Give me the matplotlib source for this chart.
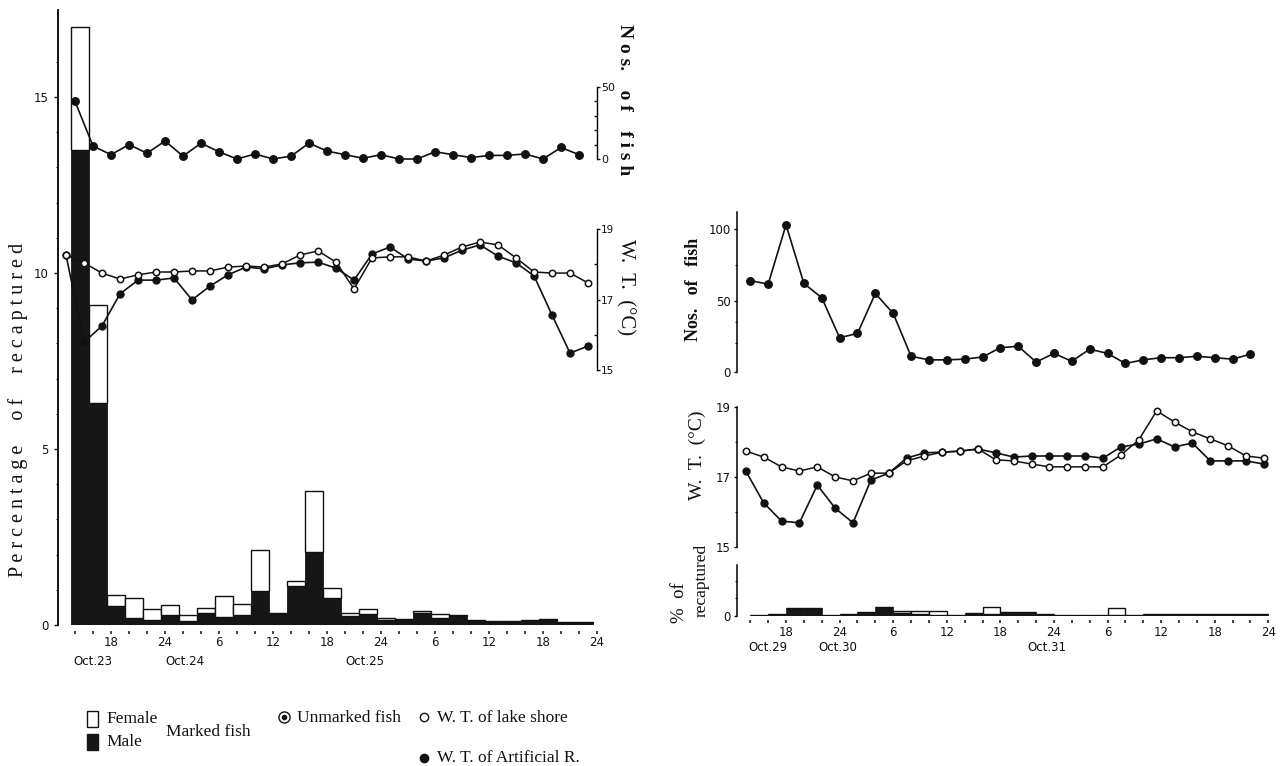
import matplotlib.pyplot as plt
from matplotlib.lines import Line2D
from matplotlib.patches import Rectangle

# ── Data (hours counted from 0:00 of the first day of each panel) ──────
# left panel: Oct. 23 - 25
bar_hours_L = [14.5 + 2 * k for k in range(29)]
male_L = [13.5, 6.3, 0.55, 0.2, 0.13, 0.28, 0.1, 0.33, 0.24, 0.27, 0.96, 0.3, 1.1, 2.06, 0.76,
          0.25, 0.3, 0.15, 0.15, 0.35, 0.2, 0.25, 0.12, 0.1, 0.1, 0.13, 0.14, 0.06, 0.06]
female_L = [3.5, 2.8, 0.3, 0.56, 0.33, 0.28, 0.17, 0.15, 0.57, 0.33, 1.16, 0.04, 0.14, 1.76, 0.29,
            0.09, 0.15, 0.05, 0.03, 0.05, 0.1, 0.03, 0.03, 0.02, 0.02, 0.02, 0.02, 0.02, 0.02]
nos_hours_L = [14 + 2 * k for k in range(29)]
nos_L = [40, 9, 3, 10, 4, 12.5, 2, 11, 5, 0, 3.5, 0, 2, 11, 5.5,
         3, 0.5, 3, 0, 0, 5, 3, 1, 2.5, 2.5, 3.5, 0, 8, 3]
wt_hours_L = [13 + 2 * k for k in range(30)]
shore_L = [18.26, 18.04, 17.75, 17.58, 17.70, 17.78, 17.78, 17.81, 17.81, 17.92, 17.95, 17.92, 18.01,
           18.26, 18.38, 18.06, 17.30, 18.18, 18.21, 18.21, 18.09, 18.26, 18.49, 18.63, 18.55,
           18.18, 17.78, 17.75, 17.75, 17.47]
artif_L = [18.26, 15.79, 16.25, 17.16, 17.55, 17.55, 17.61, 16.99, 17.38, 17.70, 17.92, 17.87, 17.98,
           18.04, 18.06, 17.89, 17.55, 18.29, 18.49, 18.15, 18.09, 18.18, 18.40, 18.55, 18.23,
           18.04, 17.67, 16.56, 15.48, 15.68]

# right panel: Oct. 29 - 31
bar_hours_R = [15 + 2 * k for k in range(29)]
male_R = [0.02, 0.06, 0.23, 0.23, 0.03, 0.07, 0.1, 0.26, 0.08, 0.05, 0.04, 0.04, 0.08, 0.06, 0.12,
          0.12, 0.05, 0.03, 0.03, 0.03, 0.04, 0.04, 0.05, 0.05, 0.05, 0.05, 0.06, 0.06, 0.06]
female_R = [0, 0, 0, 0, 0, 0, 0, 0, 0.07, 0.1, 0.11, 0, 0, 0.2, 0,
            0, 0, 0, 0, 0, 0.18, 0, 0, 0, 0, 0, 0, 0, 0]
nos_hours_R = [14 + 2 * k for k in range(29)]
nos_R = [64, 61.5, 103, 62, 52, 24, 27, 55, 41, 11, 8.5, 8.5, 9, 10.5, 17,
         18, 7, 13, 7.5, 16, 13, 6, 8.5, 10, 10, 11, 10, 9, 12.5]
wt_hours_R = [13.5 + 2 * k for k in range(30)]
shore_R = [17.74, 17.57, 17.29, 17.17, 17.29, 17.0, 16.89, 17.11, 17.11, 17.46, 17.6, 17.71, 17.74,
           17.8, 17.49, 17.46, 17.37, 17.29, 17.29, 17.29, 17.29, 17.63, 18.06, 18.89, 18.57,
           18.29, 18.09, 17.89, 17.6, 17.54]
artif_R = [17.17, 16.26, 15.74, 15.69, 16.77, 16.11, 15.69, 16.91, 17.11, 17.54, 17.69, 17.71, 17.74,
           17.8, 17.69, 17.57, 17.6, 17.6, 17.6, 17.6, 17.54, 17.86, 17.94, 18.09, 17.86, 17.97,
           17.46, 17.46, 17.46, 17.37]

hour_ticks = [18, 24, 30, 36, 42, 48, 54, 60, 66, 72]
hour_labels = ["18", "24", "6", "12", "18", "24", "6", "12", "18", "24"]
minor_hours = [14 + 2 * k for k in range(30)]

# ── Style ──────────────────────────────────────────────────────────────
W, H = 1280, 766
SERIF = ["Liberation Serif", "DejaVu Serif"]
NARROW = ["Liberation Sans Narrow", "DejaVu Sans"]
INK = "#111111"
MALE = "#161616"

fig = plt.figure(figsize=(12.8, 7.66), dpi=100)


def axes_px(x0, y0, x1, y1):
    """Transparent axes placed by pixel box (top-left origin), all spines off."""
    ax = fig.add_axes([x0 / W, 1 - y1 / H, (x1 - x0) / W, (y1 - y0) / H])
    ax.patch.set_alpha(0)
    for s in ax.spines.values():
        s.set_visible(False)
    ax.set_xticks([])
    ax.set_yticks([])
    return ax


def tick_font(ax, axis="y", size=8):
    for lab in (ax.get_yticklabels() if axis == "y" else ax.get_xticklabels()):
        lab.set_family(NARROW)
        lab.set_fontsize(size)
        lab.set_color(INK)


def hour_axis(ax, outward=4):
    ax.set_xticks(hour_ticks)
    ax.set_xticklabels(hour_labels)
    ax.set_xticks(minor_hours, minor=True)
    ax.spines["bottom"].set_position(("outward", outward))
    ax.tick_params(axis="x", which="both", direction="out", length=2.5, width=1.1,
                   color=INK, pad=1.5)
    tick_font(ax, "x", 8.5)


def wt_lines(ax, hours, shore, artif):
    ax.plot(hours, artif, color=INK, lw=1.2, marker="o", ms=5, mfc=INK, mec=INK,
            clip_on=False, zorder=3)
    ax.plot(hours, shore, color=INK, lw=1.1, marker="o", ms=4.6, mfc="white", mec=INK,
            mew=1.1, clip_on=False, zorder=4)


def date_labels(ax, items, offset_pt):
    for hx, txt in items:
        ax.annotate(txt, xy=(hx, 0), xycoords=("data", "axes fraction"),
                    xytext=(0, -offset_pt), textcoords="offset points",
                    ha="center", va="center", family=NARROW, fontsize=8.5, color=INK)


# ══════════════════════════════════════════════════════════════════════
# Left panel (Oct. 23 - 25)
# ══════════════════════════════════════════════════════════════════════
XL = (12.11, 72.33)

ax = axes_px(58, 10, 600, 625)
ax.set_xlim(*XL)
ax.set_ylim(0, (625 - 10) / 35.2)
ax.bar(bar_hours_L, male_L, width=2, color=MALE, edgecolor=MALE, lw=0.6, zorder=2)
ax.bar(bar_hours_L, female_L, width=2, bottom=male_L, color="white", edgecolor=INK,
       lw=1.0, zorder=2)
ax.spines["left"].set_visible(True)
ax.spines["left"].set_linewidth(1.3)
ax.set_yticks([0, 5, 10, 15])
ax.set_yticks(range(1, 17), minor=True)
ax.tick_params(axis="y", which="major", direction="out", length=3, width=1, color=INK, pad=4)
ax.tick_params(axis="y", which="minor", direction="out", length=1.5, width=0.8, color=INK)
tick_font(ax, "y", 8.5)
hour_axis(ax)
date_labels(ax, [(16.0, "Oct.23"), (26.2, "Oct.24"), (46.2, "Oct.25")], 26)

# numbers of unmarked fish
axn = axes_px(58, 87, 600, 159)
axn.set_xlim(*XL)
axn.set_ylim(0, 50)
axn.plot(nos_hours_L, nos_L, color=INK, lw=1.2, marker="o", ms=5.4, mfc=INK, mec=INK,
         clip_on=False, zorder=3)
axn.spines["right"].set_visible(True)
axn.spines["right"].set_position(("data", 72.0))
axn.spines["right"].set_linewidth(1.0)
axn.yaxis.tick_right()
axn.set_yticks([0, 50])
axn.set_yticks([10, 20, 30, 40], minor=True)
axn.tick_params(axis="y", which="major", direction="out", length=2.5, width=1, color=INK, pad=0.5)
axn.tick_params(axis="y", which="minor", direction="in", length=2, width=1, color=INK)
tick_font(axn, "y", 8)

# water temperature
axt = axes_px(58, 229, 600, 370)
axt.set_xlim(*XL)
axt.set_ylim(15, 19)
wt_lines(axt, wt_hours_L, shore_L, artif_L)
axt.spines["right"].set_visible(True)
axt.spines["right"].set_position(("data", 72.0))
axt.spines["right"].set_linewidth(1.0)
axt.yaxis.tick_right()
axt.set_yticks([15, 17, 19])
axt.set_yticks([16, 18], minor=True)
axt.tick_params(axis="y", which="major", direction="out", length=2.5, width=1, color=INK, pad=0.5)
axt.tick_params(axis="y", which="minor", direction="in", length=2, width=1, color=INK)
tick_font(axt, "y", 7.5)

fig.text(18 / W, 1 - 410 / H, "P e r c e n t a g e     o f     r e c a p t u r e d",
         rotation=90, ha="center", va="center", family=SERIF, fontsize=14.5, color=INK)
fig.text(625 / W, 1 - 100 / H, "N o s.    o f    f i s h", rotation=270, ha="center",
         va="center", family=SERIF, fontsize=14, fontweight="bold", color=INK)
fig.text(625 / W, 1 - 287 / H, "W.  T.  (\u00b0C)", rotation=270, ha="center", va="center",
         family=SERIF, fontsize=15, color=INK)

# ══════════════════════════════════════════════════════════════════════
# Right panel (Oct. 29 - 31)
# ══════════════════════════════════════════════════════════════════════
XR = (12.51, 72.19)

axn2 = axes_px(737, 212, 1270, 372)
axn2.set_xlim(*XR)
axn2.set_ylim(0, 112)
axn2.plot(nos_hours_R, nos_R, color=INK, lw=1.2, marker="o", ms=5.4, mfc=INK, mec=INK,
          clip_on=False, zorder=3)
axn2.spines["left"].set_visible(True)
axn2.spines["left"].set_linewidth(1.1)
axn2.set_yticks([0, 50, 100])
axn2.set_yticks([20, 35, 75], minor=True)
axn2.tick_params(axis="y", which="major", direction="out", length=2.5, width=1, color=INK, pad=2)
axn2.tick_params(axis="y", which="minor", direction="out", length=1.5, width=0.8, color=INK)
tick_font(axn2, "y", 8.5)

axt2 = axes_px(737, 407, 1270, 547)
axt2.set_xlim(*XR)
axt2.set_ylim(15, 19)
wt_lines(axt2, wt_hours_R, shore_R, artif_R)
axt2.spines["left"].set_visible(True)
axt2.spines["left"].set_linewidth(1.1)
axt2.set_yticks([15, 17, 19])
axt2.set_yticks([16, 18], minor=True)
axt2.tick_params(axis="y", which="major", direction="out", length=2.5, width=1, color=INK, pad=2)
axt2.tick_params(axis="y", which="minor", direction="out", length=1.5, width=0.8, color=INK)
tick_font(axt2, "y", 8.5)

axp2 = axes_px(737, 565, 1270, 616)
axp2.set_xlim(*XR)
axp2.set_ylim(0, 51 / 35.2)
axp2.bar(bar_hours_R, male_R, width=2, color=MALE, edgecolor=MALE, lw=0.5, zorder=2)
axp2.bar(bar_hours_R, female_R, width=2, bottom=male_R, color="white", edgecolor=INK,
         lw=1.0, zorder=2)
axp2.spines["left"].set_visible(True)
axp2.spines["left"].set_linewidth(1.1)
axp2.set_yticks([0])
axp2.set_yticks([0.5, 1.0], minor=True)
axp2.tick_params(axis="y", which="major", direction="out", length=2.5, width=1, color=INK, pad=2)
axp2.tick_params(axis="y", which="minor", direction="out", length=1.5, width=0.8, color=INK)
tick_font(axp2, "y", 8.5)
hour_axis(axp2, outward=3)
date_labels(axp2, [(16.0, "Oct.29"), (23.8, "Oct.30"), (47.2, "Oct.31")], 23)

fig.text(693 / W, 1 - 289 / H, "Nos.   of   fish", rotation=90, ha="center", va="center",
         family=SERIF, fontsize=13, fontweight="bold", color=INK)
fig.text(697 / W, 1 - 455 / H, "W.  T.  (\u00b0C)", rotation=90, ha="center", va="center",
         family=SERIF, fontsize=14, color=INK)
fig.text(680 / W, 1 - 603 / H, "%  of", rotation=90, ha="center", va="center",
         family=SERIF, fontsize=13.5, color=INK)
fig.text(702 / W, 1 - 580 / H, "recaptured", rotation=90, ha="center", va="center",
         family=SERIF, fontsize=12.5, color=INK)

# ══════════════════════════════════════════════════════════════════════
# Key at the bottom
# ══════════════════════════════════════════════════════════════════════
def fx(px):
    return px / W


def fy(py):
    return 1 - py / H


fig.add_artist(Rectangle((fx(87), fy(727)), 11 / W, 16 / H, transform=fig.transFigure,
                         facecolor="white", edgecolor=INK, lw=1.0))
fig.add_artist(Rectangle((fx(87), fy(750)), 11 / W, 16 / H, transform=fig.transFigure,
                         facecolor=MALE, edgecolor=MALE, lw=1.0))
fig.add_artist(Line2D([fx(284)], [fy(717)], transform=fig.transFigure, marker="o", ms=8,
                      mfc="white", mec=INK, mew=1.0))
fig.add_artist(Line2D([fx(284)], [fy(717)], transform=fig.transFigure, marker="o", ms=3,
                      mfc=INK, mec=INK))
fig.add_artist(Line2D([fx(424)], [fy(717)], transform=fig.transFigure, marker="o", ms=6,
                      mfc="white", mec=INK, mew=1.0))
fig.add_artist(Line2D([fx(424)], [fy(758)], transform=fig.transFigure, marker="o", ms=6,
                      mfc=INK, mec=INK))

key = dict(family=SERIF, fontsize=12.5, color=INK, va="center", ha="left")
fig.text(fx(106), fy(719), "Female", **key)
fig.text(fx(106), fy(742), "Male", **key)
fig.text(fx(166), fy(732), "Marked fish", **key)
fig.text(fx(297), fy(718), "Unmarked fish", **key)
fig.text(fx(437), fy(718), "W. T. of lake shore", **key)
fig.text(fx(437), fy(758), "W. T. of Artificial R.", **key)

fig.savefig("out.png", dpi=100, facecolor="white")
